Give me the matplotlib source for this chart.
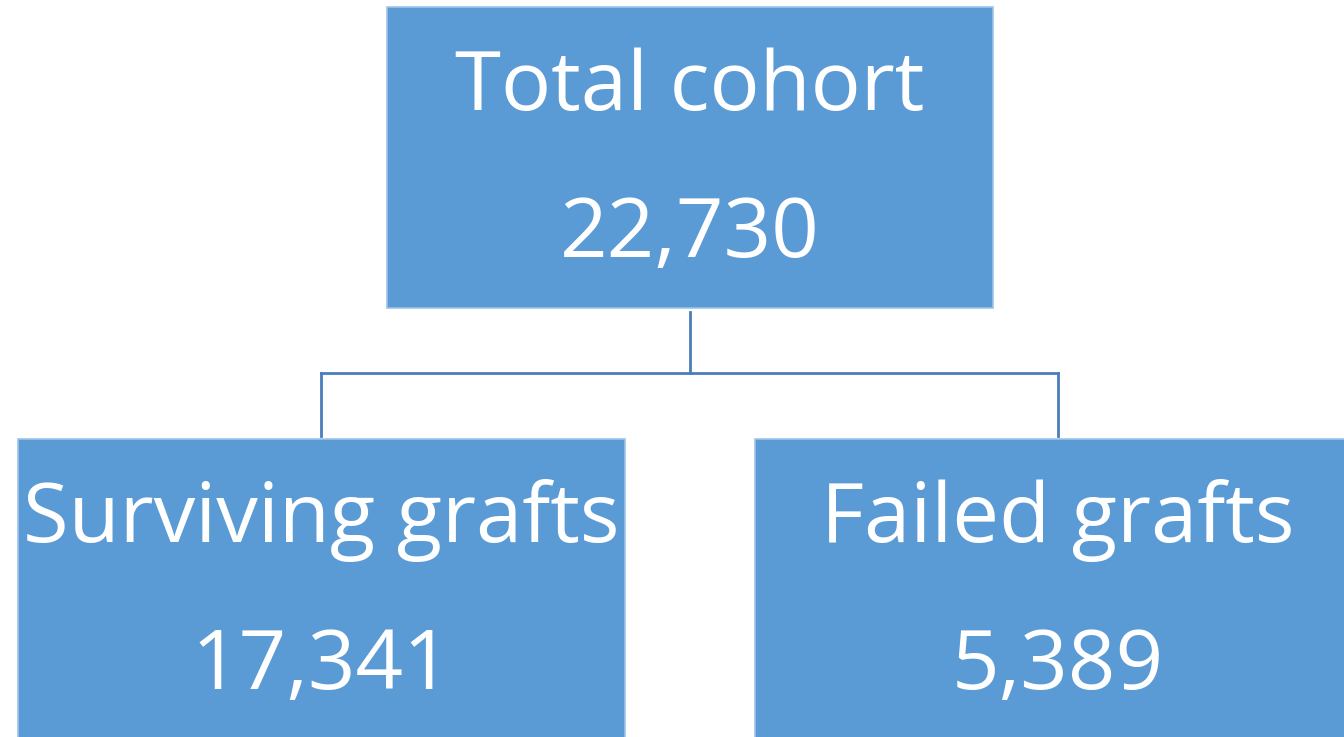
import matplotlib
matplotlib.use("Agg")
import matplotlib.pyplot as plt
from matplotlib.patches import Rectangle

# node data
labels = ["Total cohort", "Surviving grafts", "Failed grafts"]
counts = [22730, 17341, 5389]

# layout (pixels, y downward)
boxes = [(387, 7, 606, 301), (18, 439, 607, 301), (755, 439, 606, 301)]
fill = "#5B9BD5"
edge = "#9DC3E6"
line_col = "#4A7EBB"

fig = plt.figure(figsize=(13.44, 7.37), dpi=100)
ax = fig.add_axes([0, 0, 1, 1])
ax.set_xlim(0, 1344)
ax.set_ylim(737, 0)
ax.axis("off")

for (x, y, w, h), lab, n in zip(boxes, labels, counts):
    ax.add_patch(Rectangle((x, y), w, h, facecolor=fill, edgecolor=edge, lw=1.2))
    cx = x + w / 2
    ax.text(cx, y + 82, lab, color="white", fontsize=60, family="Open Sans",
            ha="center", va="center")
    ax.text(cx, y + 229, f"{n:,}", color="white", fontsize=60, family="Open Sans",
            ha="center", va="center")

# connectors
ax.plot([690, 690], [312, 373], color=line_col, lw=2)
ax.plot([321, 1058], [373, 373], color=line_col, lw=2)
ax.plot([321, 321], [373, 436], color=line_col, lw=2)
ax.plot([1058, 1058], [373, 436], color=line_col, lw=2)

fig.savefig("out.png", dpi=100)
